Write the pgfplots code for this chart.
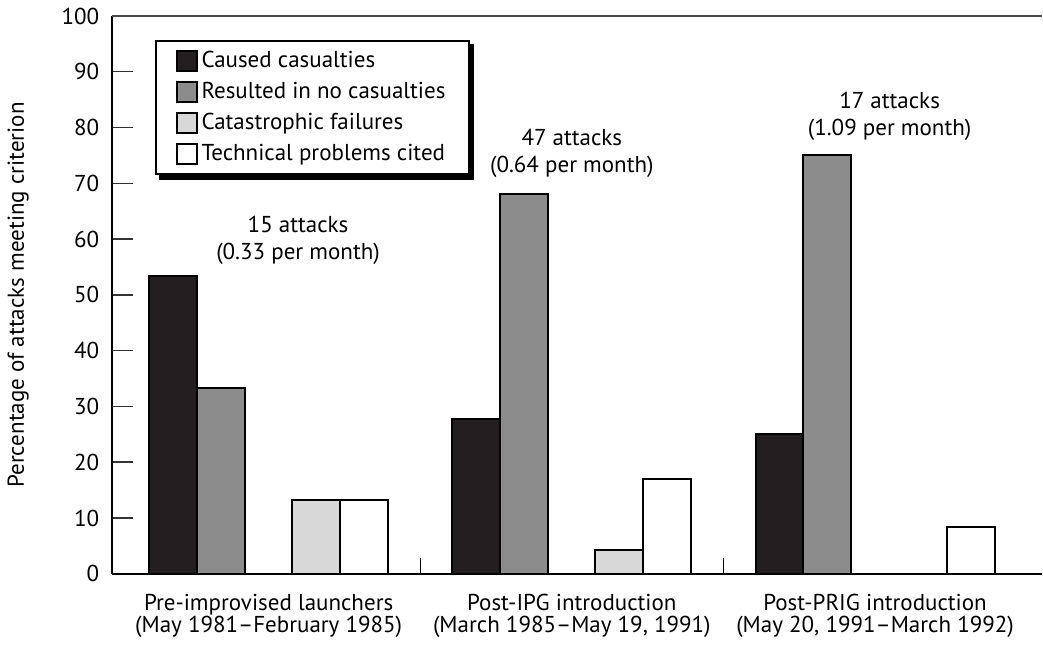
\documentclass[border=0pt]{standalone}
\usepackage{fontspec}
\setmainfont{PT Sans}
\usepackage{pgfplots}
\pgfplotsset{compat=1.18}
\pgfdeclarelayer{background}
\pgfsetlayers{background,main}
\definecolor{cdark}{HTML}{231F20}
\definecolor{cgray}{HTML}{8C8C8C}
\definecolor{clight}{HTML}{D8D8D8}

\begin{document}
\fontsize{11.5}{13.5}\selectfont
\begin{tikzpicture}
\begin{axis}[
  scale only axis, width=465pt, height=279pt,
  xmin=-0.516, xmax=2.55, ymin=0, ymax=100,
  axis lines*=left,
  axis line style={line width=1.2pt, black},
  /pgf/number format/assume math mode=true,
  ytick={0,10,...,100},
  tick align=inside,
  major tick length=10.5pt,
  minor tick length=8pt,
  y tick style={line width=0.7pt, black!80},
  xtick={0,1,2},
  major x tick style={draw=none},
  minor xtick={0.5,1.5},
  minor x tick style={line width=0.7pt, black},
  xticklabels={{Pre-improvised launchers\\(May 1981--February 1985)},
               {Post-IPG introduction\\(March 1985--May 19, 1991)},
               {Post-PRIG introduction\\(May 20, 1991--March 1992)}},
  x tick label style={align=center, font=\fontsize{11.5}{11}\selectfont, yshift=-6pt},
  y tick label style={font=\fontsize{11.5}{13}\selectfont, xshift=-2.5pt},
  ylabel={Percentage of attacks meeting criterion},
  ylabel style={font=\fontsize{11.5}{13}\selectfont},
  ylabel shift=8.5pt,
  legend style={name=leg, at={(0.046,0.957)}, anchor=north west, draw=black, line width=1pt,
    fill=white, font=\fontsize{11.5}{13.5}\selectfont, row sep=1.7pt,
    inner xsep=9.8pt, inner ysep=3pt, cells={anchor=west}},
  legend image code/.code={\draw[#1, line width=1pt] (0pt,-5pt) rectangle (10pt,5pt);},
  every axis plot/.append style={ybar, bar width=0.158, bar shift=0pt, draw=black, line width=1pt},
]
\addplot[fill=cdark] coordinates {(-0.315,53.3) (0.685,27.7) (1.685,25.0)};
\addplot[fill=cgray] coordinates {(-0.157,33.3) (0.843,68.1) (1.843,75.0)};
\addplot[fill=clight] coordinates {(0.157,13.3) (1.157,4.3)};
\addplot[fill=white] coordinates {(0.315,13.3) (1.315,17.0) (2.315,8.3)};
\legend{Caused casualties, Resulted in no casualties, Catastrophic failures, Technical problems cited}
\node[align=center] at (axis cs:0.097,59.7) {15 attacks\\(0.33 per month)};
\node[align=center] at (axis cs:1.0,75.3) {47 attacks\\(0.64 per month)};
\node[align=center] at (axis cs:2.048,82.0) {17 attacks\\(1.09 per month)};
\end{axis}
\begin{pgfonlayer}{background}
\fill[black] ([shift={(2.2pt,-2.2pt)}]leg.south west) rectangle ([shift={(2.2pt,-2.2pt)}]leg.north east);
\end{pgfonlayer}
\draw[black!70, line width=0.6pt] (current axis.north west) -- (current axis.north east);
\end{tikzpicture}
\end{document}
